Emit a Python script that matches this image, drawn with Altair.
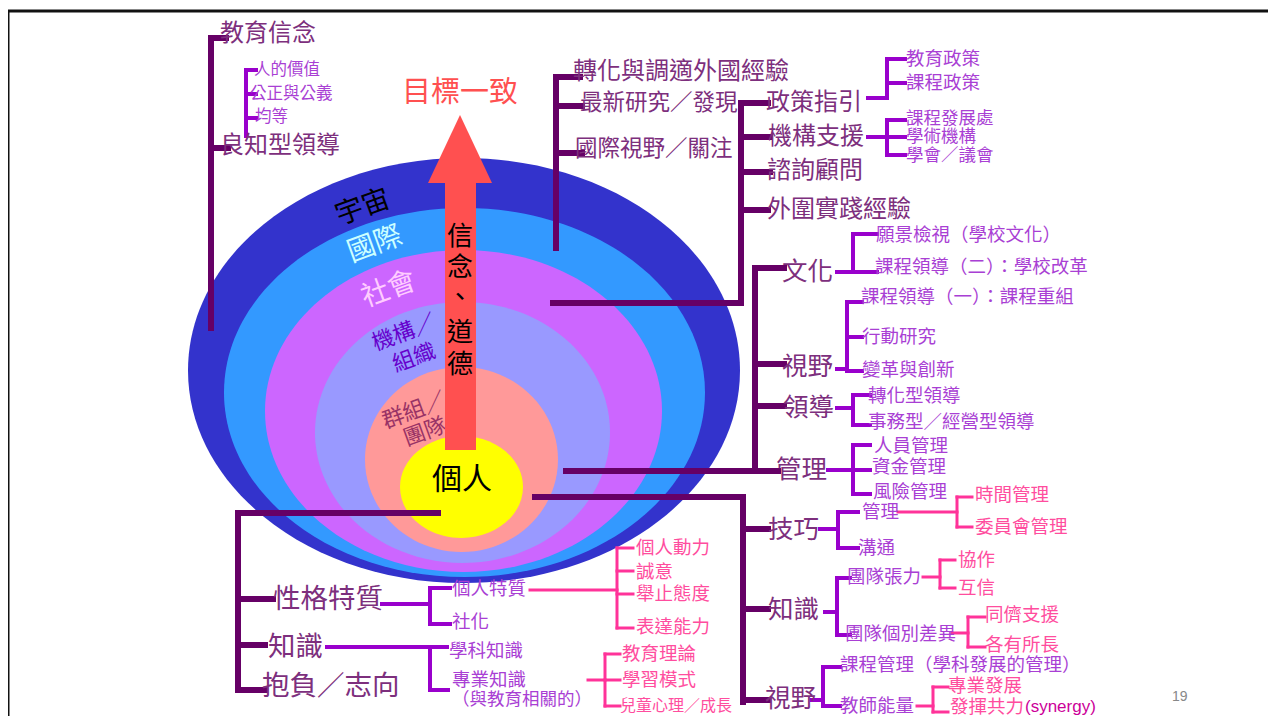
import altair as alt
import pandas as pd

# ---------------- data ----------------
# nested rings (left, right, top, bottom edges in page pixels)
ring_names = ["宇宙", "國際", "社會", "機構組織", "群組團隊", "個人"]
ring_left = [188, 224, 265, 315, 365, 400]
ring_right = [740, 705, 662, 610, 558, 523]
ring_top = [158, 208, 250, 302, 367, 436]
ring_bottom = [583, 577, 572, 563, 552, 538]
ring_colors = ["#3333CC", "#3399FF", "#CC66FF", "#9999FF", "#FF9999", "#FFFF00"]

# arrow
arrow_head_x = [428, 460, 492]
arrow_head_y = [183, 115, 183]
arrow_shaft = [445, 476, 180, 450]  # x, x2, y, y2

# connector segments [x1, y1, x2, y2]
dark_segments = [
    [211, 38, 211, 328], [211, 38, 226, 38], [211, 148, 228, 148],
    [556, 77, 556, 248], [556, 77, 580, 77], [556, 106, 582, 106], [556, 153, 582, 153],
    [553, 303, 741, 303], [741, 103, 741, 303], [741, 103, 768, 103],
    [741, 137, 770, 137], [741, 172, 770, 172], [741, 210, 768, 210],
    [566, 471, 778, 471], [755, 268, 755, 471], [755, 268, 784, 268],
    [755, 364, 784, 364], [755, 406, 784, 406],
    [535, 497, 743, 497], [743, 497, 743, 702], [743, 529, 768, 529],
    [743, 609, 768, 609], [743, 700, 768, 700],
    [238, 513, 438, 513], [238, 513, 238, 690], [238, 599, 273, 599],
    [238, 645, 265, 645], [238, 690, 265, 690],
]
purple_segments = [
    [246, 70, 246, 136], [246, 70, 256, 70], [246, 94, 256, 94], [246, 118, 256, 118],
    [868, 98, 887, 98], [887, 59, 887, 98], [887, 59, 905, 59], [887, 83, 905, 83],
    [868, 137, 887, 137], [887, 120, 887, 155], [887, 120, 905, 120],
    [887, 137, 905, 137], [887, 155, 905, 155],
    [837, 272, 853, 272], [853, 234, 853, 272], [853, 234, 877, 234], [853, 272, 877, 272],
    [837, 369, 847, 369], [847, 302, 847, 371], [847, 302, 862, 302],
    [847, 337, 862, 337], [847, 371, 862, 371],
    [837, 408, 853, 408], [853, 395, 853, 425], [853, 395, 870, 395], [853, 425, 870, 425],
    [828, 470, 853, 470], [853, 445, 853, 494], [853, 445, 870, 445],
    [853, 470, 870, 470], [853, 494, 870, 494],
    [820, 529, 838, 529], [838, 512, 838, 548], [838, 512, 858, 512], [838, 548, 858, 548],
    [825, 612, 837, 612], [837, 578, 837, 635], [837, 578, 850, 578], [837, 635, 850, 635],
    [812, 700, 823, 700], [823, 667, 823, 706], [823, 667, 840, 667], [823, 706, 840, 706],
    [382, 604, 430, 604], [430, 588, 430, 624], [430, 588, 450, 588], [430, 624, 450, 624],
    [327, 647, 447, 647], [430, 647, 430, 690], [430, 690, 448, 690],
]
pink_segments = [
    [530, 590, 617, 590], [617, 548, 617, 628], [617, 548, 633, 548],
    [617, 571, 633, 571], [617, 594, 633, 594], [617, 628, 633, 628],
    [588, 680, 605, 680], [605, 654, 605, 706], [605, 654, 620, 654],
    [605, 680, 620, 680], [605, 706, 620, 706],
    [898, 512, 957, 512], [957, 497, 957, 527], [957, 497, 972, 497], [957, 527, 972, 527],
    [923, 577, 940, 577], [940, 560, 940, 588], [940, 560, 955, 560], [940, 588, 955, 588],
    [952, 633, 968, 633], [968, 617, 968, 647], [968, 617, 985, 617], [968, 647, 985, 647],
    [917, 706, 933, 706], [933, 687, 933, 712], [933, 687, 948, 687], [933, 712, 948, 712],
]
frame_segments = [[7, 11, 1268, 11], [8, 11, 8, 716]]

# labels (text, x, y)
main_labels = [
    ("教育信念", 220, 34), ("良知型領導", 220, 146),
    ("轉化與調適外國經驗", 573, 72),
    ("政策指引", 766, 103), ("機構支援", 768, 137), ("諮詢顧問", 767, 171),
    ("外圍實踐經驗", 767, 210),
]
main_labels_mid = [("最新研究／發現", 580, 103), ("國際視野／關注", 575, 149)]
main_labels_big = [
    ("文化", 782, 272), ("視野", 782, 367), ("領導", 783, 408), ("管理", 776, 470),
    ("技巧", 768, 530), ("知識", 768, 610), ("視野", 765, 699),
]
main_labels_left = [("性格特質", 273, 600), ("知識", 268, 648), ("抱負／志向", 262, 687)]
sub_labels_small = [("人的價值", 254, 70), ("公正與公義", 250, 94), ("均等", 255, 117)]
sub_labels_tight = [("課程發展處", 906, 119), ("學術機構", 906, 137), ("學會／議會", 906, 156)]
sub_labels = [
    ("教育政策", 906, 59), ("課程政策", 906, 83),
    ("願景檢視（學校文化）", 876, 235), ("課程領導（二）：學校改革", 875, 267),
    ("課程領導（一）：課程重組", 861, 297), ("行動研究", 862, 337), ("變革與創新", 862, 370),
    ("轉化型領導", 868, 396), ("事務型／經營型領導", 868, 422),
    ("人員管理", 874, 446), ("資金管理", 872, 467), ("風險管理", 873, 492),
    ("管理", 862, 512), ("溝通", 858, 548),
    ("團隊張力", 847, 577), ("團隊個別差異", 845, 634),
    ("課程管理（學科發展的管理）", 840, 665), ("教師能量", 840, 706),
    ("個人特質", 452, 589), ("社化", 452, 622),
    ("學科知識", 449, 651), ("專業知識", 452, 680),
]
sub_labels_paren = [("（與教育相關的）", 452, 700)]
leaf_labels = [
    ("時間管理", 975, 495), ("委員會管理", 975, 527),
    ("協作", 958, 560), ("互信", 958, 588),
    ("同儕支援", 985, 615), ("各有所長", 985, 645),
    ("專業發展", 948, 686), ("發揮共力", 950, 707),
    ("個人動力", 636, 548), ("誠意", 636, 572), ("舉止態度", 636, 594), ("表達能力", 636, 627),
    ("教育理論", 622, 654), ("學習模式", 622, 680),
]
leaf_labels_small = [("兒童心理／成長", 620, 706)]
synergy_label = [("(synergy)", 1025, 707)]

ring_labels = [
    ("宇宙", 363, 208, "#000000", 28),
    ("國際", 375, 245, "#CCFFFF", 28),
    ("社會", 389, 290, "#FFCCFF", 28),
    ("機構／", 404, 333, "#6600CC", 22),
    ("組織", 414, 358, "#6600CC", 22),
    ("群組／", 414, 411, "#993366", 22),
    ("團隊", 425, 432, "#993366", 22),
]
center_label = [("個人", 462, 480)]
goal_label = [("目標一致", 460, 93)]
arrow_chars = [("信", 460, 237), ("念", 460, 268), ("、", 460, 298), ("道", 460, 333), ("德", 460, 365)]
page_number = [("19", 1172, 697)]

# ---------------- chart ----------------
FONT = "Noto Sans CJK TC"
XS = alt.Scale(domain=[8, 1268], nice=False, zero=False)
YS = alt.Scale(domain=[8, 716], nice=False, zero=False, reverse=True)


def X(f):
    return alt.X(f, type="quantitative", scale=XS, axis=None)


def Y(f):
    return alt.Y(f, type="quantitative", scale=YS, axis=None)


K = 0.5523


def ellipse_path(r):
    return (f"M-1,0C-1,{-K*r:.4f} {-K:.4f},{-r:.4f} 0,{-r:.4f}"
            f"C{K:.4f},{-r:.4f} 1,{-K*r:.4f} 1,0"
            f"C1,{K*r:.4f} {K:.4f},{r:.4f} 0,{r:.4f}"
            f"C{-K:.4f},{r:.4f} -1,{K*r:.4f} -1,0Z")


rings = pd.DataFrame({
    "name": ring_names,
    "cx": [(a + b) / 2 for a, b in zip(ring_left, ring_right)],
    "cy": [(a + b) / 2 for a, b in zip(ring_top, ring_bottom)],
    "w": [b - a for a, b in zip(ring_left, ring_right)],
    "h": [b - a for a, b in zip(ring_top, ring_bottom)],
    "color": ring_colors,
})
rings["shape"] = [ellipse_path(h / w) for w, h in zip(rings["w"], rings["h"])]
rings["size"] = rings["w"] ** 2
rings["order"] = range(len(rings))

ring_layer = alt.Chart(rings).mark_point(filled=True, opacity=1, strokeWidth=0).encode(
    x=X("cx"), y=Y("cy"),
    shape=alt.Shape("shape:N", scale=None),
    size=alt.Size("size:Q", scale=None),
    color=alt.Color("color:N", scale=None),
    order=alt.Order("order:Q"),
)


def seg_layer(segs, color, width, cap="square"):
    df = pd.DataFrame(segs, columns=["x1", "y1", "x2", "y2"])
    return alt.Chart(df).mark_rule(color=color, strokeWidth=width, strokeCap=cap).encode(
        x=X("x1"), y=Y("y1"), x2="x2:Q", y2="y2:Q")


def text_layer(items, size, color, align="left", angle=0, font=FONT):
    df = pd.DataFrame(items, columns=["t", "x", "y"])
    return alt.Chart(df).mark_text(
        align=align, baseline="middle", fontSize=size, color=color, font=font, angle=angle
    ).encode(x=X("x"), y=Y("y"), text="t:N")


rl = pd.DataFrame(ring_labels, columns=["t", "x", "y", "c", "s"])
ring_text = alt.Chart(rl).mark_text(align="center", baseline="middle", font=FONT, angle=340).encode(
    x=X("x"), y=Y("y"), text="t:N",
    color=alt.Color("c:N", scale=None), size=alt.Size("s:Q", scale=None))

head = pd.DataFrame({"x": arrow_head_x, "y": arrow_head_y, "y2": [183] * 3})
head_layer = alt.Chart(head).mark_area(color="#FF5050", orient="vertical").encode(
    x=X("x"), y=Y("y"), y2="y2:Q")
shaft = pd.DataFrame([arrow_shaft], columns=["x", "x2", "y", "y2"])
shaft_layer = alt.Chart(shaft).mark_rect(color="#FF5050").encode(
    x=X("x"), x2="x2:Q", y=Y("y"), y2="y2:Q")

DARK_T = "#7d2f7d"
PURP_T = "#a93fd4"
PINK_T = "#ff4d9e"

chart = alt.layer(
    ring_layer,
    ring_text,
    shaft_layer,
    head_layer,
    seg_layer(frame_segments, "#111111", 3, "butt"),
    seg_layer(dark_segments, "#660066", 6),
    seg_layer(purple_segments, "#9900CC", 4),
    seg_layer(pink_segments, "#FF3399", 3),
    text_layer(main_labels, 24, DARK_T),
    text_layer(main_labels_mid, 22.5, DARK_T),
    text_layer(main_labels_big, 25.5, DARK_T),
    text_layer(main_labels_left, 27.5, DARK_T),
    text_layer(sub_labels_small, 16.5, PURP_T),
    text_layer(sub_labels_tight, 17.5, PURP_T),
    text_layer(sub_labels, 18.5, PURP_T),
    text_layer(sub_labels_paren, 17.5, PURP_T),
    text_layer(leaf_labels, 18.5, PINK_T),
    text_layer(leaf_labels_small, 16, PINK_T),
    text_layer(synergy_label, 17, "#CC0099", font="Liberation Sans"),
    text_layer(center_label, 30, "#000000", align="center"),
    text_layer(goal_label, 29, "#FF5050", align="center"),
    text_layer(arrow_chars, 26, "#000000", align="center"),
    text_layer(page_number, 14, "#888888", font="Liberation Sans"),
).properties(
    width=1260, height=708, padding=0, autosize="none", background="white"
).configure_view(stroke=None)

chart.save("out.html", embed_options={"renderer": "svg", "actions": False})
